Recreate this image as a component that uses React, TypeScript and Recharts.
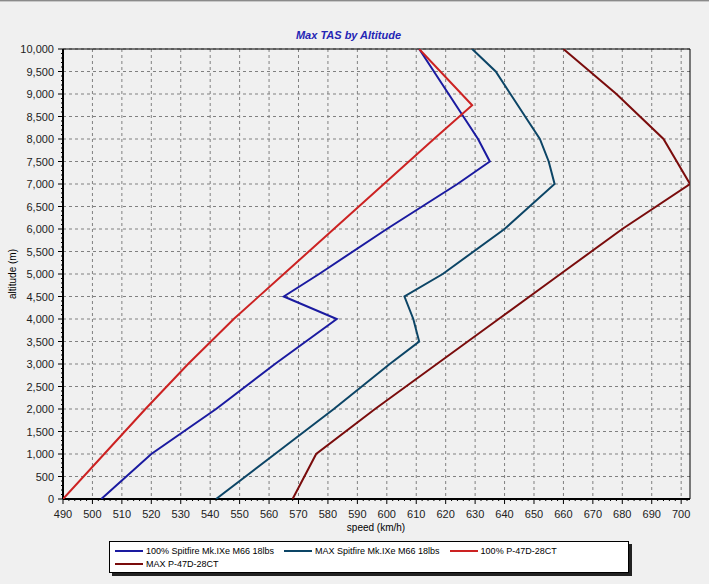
import React from 'react';
import { ScatterChart, Scatter, XAxis, YAxis, CartesianGrid, ReferenceArea } from 'recharts';

// axis ticks
const speedTicks = [490, 500, 510, 520, 530, 540, 550, 560, 570, 580, 590, 600, 610, 620, 630, 640, 650, 660, 670, 680, 690, 700];
const altTicks = [0, 500, 1000, 1500, 2000, 2500, 3000, 3500, 4000, 4500, 5000, 5500, 6000, 6500, 7000, 7500, 8000, 8500, 9000, 9500, 10000];
const speedMinor = Array.from({ length: 107 }, (_, i) => 490 + i * 2);
const altMinor = Array.from({ length: 101 }, (_, i) => i * 100);

// 100% Spitfire Mk.IXe M66 18lbs
const spit100Alt = [0, 1000, 2000, 3000, 4000, 4500, 5000, 6000, 7000, 7500, 8000, 9000, 10000];
const spit100Speed = [503, 520, 542, 562, 583, 565, 577, 600, 624, 635, 631, 621, 611];

// MAX Spitfire Mk.IXe M66 18lbs
const spitMaxAlt = [0, 1000, 2000, 3000, 3500, 4000, 4500, 5000, 6000, 7000, 7500, 8000, 8500, 9000, 9500, 10000];
const spitMaxSpeed = [542, 562, 582, 601, 611, 609, 606, 619, 640, 657, 655, 652, 647, 642, 637, 629];

// 100% P-47D-28CT
const p47Alt = [0, 1000, 2000, 3000, 4000, 5000, 6000, 7000, 8000, 8750, 10000];
const p47Speed = [490, 504, 518, 532.5, 548, 565, 582, 599, 616, 629, 611];

// MAX P-47D-28CT
const p47MaxAlt = [0, 1000, 2000, 3000, 4000, 5000, 6000, 7000, 8000, 9000, 10000];
const p47MaxSpeed = [568, 576, 596, 617, 638, 659, 680, 703, 694, 678, 660];

const zip = (alts: number[], speeds: number[]) => alts.map((alt, i) => ({ alt, speed: speeds[i] }));

const series = [
  { name: '100% Spitfire Mk.IXe M66 18lbs', color: '#1a1aa0', data: zip(spit100Alt, spit100Speed) },
  { name: 'MAX Spitfire Mk.IXe M66 18lbs', color: '#0c4566', data: zip(spitMaxAlt, spitMaxSpeed) },
  { name: '100% P-47D-28CT', color: '#cc2222', data: zip(p47Alt, p47Speed) },
  { name: 'MAX P-47D-28CT', color: '#7a0c0c', data: zip(p47MaxAlt, p47MaxSpeed) },
];

const FONT = '"Liberation Sans", Arial, sans-serif';

const NoDot = () => <g />;

const XTick = (props: any) => {
  const { x, y, payload } = props;
  const v = payload.value;
  const major = v % 10 === 0;
  return (
    <g>
      <line x1={x} x2={x} y1={y} y2={y + (major ? 5 : 2)} stroke="#000" />
      {major && (
        <text x={x} y={y + 19} textAnchor="middle" fontSize={11} fill="#222" fontFamily={FONT}>
          {v}
        </text>
      )}
    </g>
  );
};

const YTick = (props: any) => {
  const { x, y, payload } = props;
  const v = payload.value;
  const major = v % 500 === 0;
  return (
    <g>
      <line x1={x - (major ? 5 : 2)} x2={x} y1={y} y2={y} stroke="#000" />
      {major && (
        <text x={x - 9} y={y + 4} textAnchor="end" fontSize={11} fill="#222" fontFamily={FONT}>
          {v.toLocaleString('en-US')}
        </text>
      )}
    </g>
  );
};

export default function App() {
  return (
    <div style={{ position: 'absolute', left: 0, top: 0, width: 709, height: 584, background: '#f0f0f0', fontFamily: FONT, overflow: 'hidden' }}>
      <div style={{ position: 'absolute', left: 0, top: 0, width: 709, height: 1, background: '#8a8a8a' }} />
      <div style={{ position: 'absolute', left: 0, top: 1, width: 709, height: 1, background: '#c8c8c8' }} />
      <div style={{ position: 'absolute', left: 0, top: 29, width: 697, textAlign: 'center', fontSize: 11, fontWeight: 'bold', fontStyle: 'italic', color: '#2525b5' }}>
        Max TAS by Altitude
      </div>
      <ScatterChart width={709} height={584} margin={{ top: 49, right: 19, bottom: 55, left: 8 }}>
        <CartesianGrid stroke="#808080" strokeDasharray="3 3" horizontalValues={altTicks} verticalValues={speedTicks} />
        <XAxis
          type="number"
          dataKey="speed"
          domain={[490, 703]}
          ticks={speedMinor}
          interval={0}
          tickSize={0}
          tickMargin={0}
          tickLine={false}
          tick={XTick}
          height={30}
          axisLine={{ stroke: '#000', strokeWidth: 2 }}
          allowDataOverflow
        />
        <YAxis
          type="number"
          dataKey="alt"
          domain={[0, 10000]}
          ticks={altMinor}
          interval={0}
          tickSize={0}
          tickMargin={0}
          tickLine={false}
          tick={YTick}
          width={55}
          axisLine={{ stroke: '#000', strokeWidth: 2 }}
          allowDataOverflow
        />
        {series.map((s) => (
          <Scatter
            key={s.name}
            name={s.name}
            data={s.data}
            fill={s.color}
            line={{ stroke: s.color, strokeWidth: 2 }}
            lineType="joint"
            shape={NoDot}
            legendType="line"
            isAnimationActive={false}
          />
        ))}
        <ReferenceArea x1={490} x2={703} y1={0} y2={10000} fill="none" stroke="#000" strokeWidth={1} />
      </ScatterChart>
      <div style={{ position: 'absolute', left: 12, top: 274, transform: 'translate(-50%, -50%) rotate(-90deg)', fontSize: 10, whiteSpace: 'nowrap', color: '#000' }}>
        altitude (m)
      </div>
      <div style={{ position: 'absolute', left: 376, top: 527, transform: 'translate(-50%, -50%)', fontSize: 10, whiteSpace: 'nowrap', color: '#000' }}>
        speed (km/h)
      </div>
      <div
        style={{
          position: 'absolute', left: 109, top: 541, width: 513, height: 28, background: '#fff',
          border: '1px solid #000', boxShadow: '3px 3px 0 #222', display: 'flex', flexWrap: 'wrap',
          columnGap: 10, padding: '2px 0 0 5px', boxSizing: 'content-box', alignContent: 'flex-start',
        }}
      >
        {series.map((s) => (
          <div key={s.name} style={{ display: 'flex', alignItems: 'center', height: 13 }}>
            <div style={{ width: 28, height: 2, background: s.color, marginRight: 3 }} />
            <span style={{ fontSize: 9, color: '#000', whiteSpace: 'nowrap' }}>{s.name}</span>
          </div>
        ))}
      </div>
    </div>
  );
}
